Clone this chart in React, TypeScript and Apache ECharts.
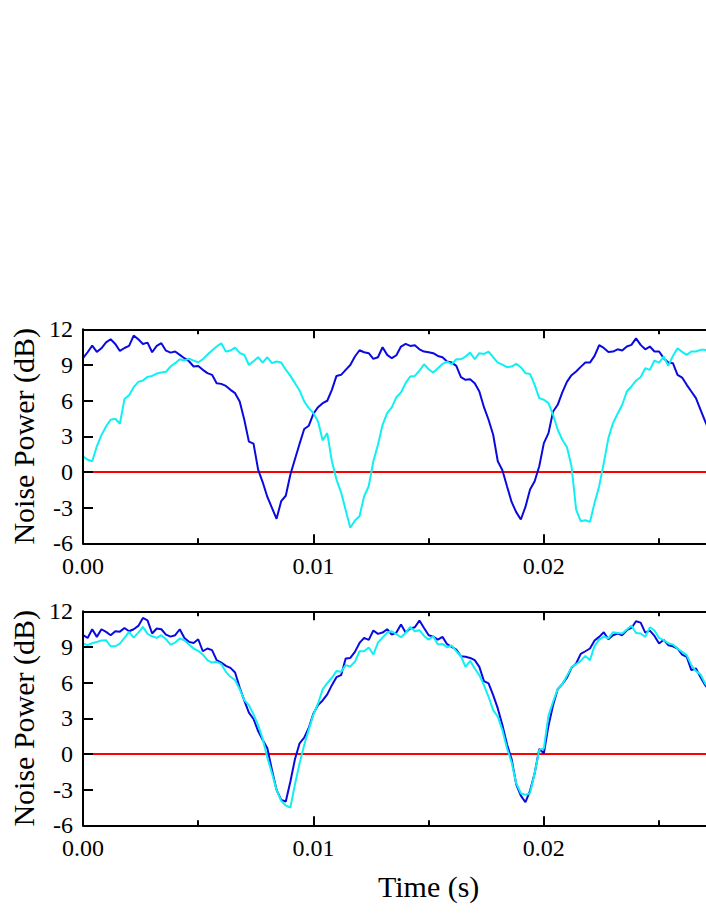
import React, { useEffect, useRef } from 'react';
import * as echarts from 'echarts';

// sampling step of the time series (s)
const T_STEP = 0.0002;

// y-axis ticks (dB)
const Y_MIN = -6;
const Y_MAX = 12;
const Y_INTERVAL = 3;
// x-axis (s)
const X_MIN = 0;
const X_MAX = 0.03;
const X_LABEL_MAX = 0.025;

const topBlue = [
  9.57, 10.07, 10.63, 10.1, 10.4, 10.9, 11.16, 10.77, 10.18, 10.43,
  10.6, 11.47, 11.16, 10.77, 10.88, 10.07, 10.6, 10.83, 10.2, 10.04,
  10.13, 9.85, 9.57, 9.31, 8.87, 8.92, 8.59, 8.31, 8.17, 7.47,
  7.41, 7.24, 6.91, 6.63, 5.93, 4.39, 2.55, 2.38, 0.2, -0.87,
  -2.1, -3.02, -3.94, -2.46, -2.0, -0.22, 1.09, 2.38, 3.61, 3.89,
  4.9, 5.45, 5.79, 5.99, 6.91, 8.08, 8.17, 8.59, 9.0, 9.71,
  10.24, 10.07, 9.99, 9.51, 9.65, 10.49, 9.85, 9.57, 9.82, 10.55,
  10.77, 10.6, 10.66, 10.32, 10.13, 10.07, 9.99, 9.76, 9.65, 9.29,
  9.2, 8.92, 7.97, 7.75, 7.8, 7.47, 6.77, 5.45, 4.39, 3.13,
  0.9, 0.14, -1.2, -2.52, -3.38, -4.0, -2.94, -1.48, -0.78, 0.48,
  2.43, 3.27, 5.09, 5.65, 6.69, 7.58, 8.14, 8.45, 8.84, 9.2,
  9.2, 9.76, 10.66, 10.43, 10.1, 10.13, 10.32, 10.21, 10.55, 10.69,
  11.24, 10.69, 10.32, 10.55, 10.13, 10.13, 9.57, 9.2, 9.15, 8.17,
  7.94, 7.33, 6.77, 6.21, 5.23, 4.25, 3.4,
];

const topCyan = [
  1.31, 1.03, 0.9, 2.15, 3.1, 3.83, 4.39, 4.48, 4.06, 6.13,
  6.46, 7.13, 7.58, 7.69, 8.0, 8.08, 8.28, 8.36, 8.42, 8.87,
  9.15, 9.48, 9.37, 9.54, 9.37, 9.23, 9.48, 9.87, 10.21, 10.55,
  10.83, 10.13, 10.21, 10.46, 10.01, 9.85, 9.0, 9.31, 9.65, 9.2,
  9.65, 9.15, 9.29, 9.2, 8.6, 8.08, 7.47, 6.85, 5.93, 5.37,
  4.95, 4.25, 2.66, 3.27, 0.9, -0.64, -1.71, -3.22, -4.7, -4.08,
  -3.72, -2.04, -1.2, 0.9, 2.29, 3.97, 4.95, 5.43, 6.29, 6.69,
  7.47, 8.03, 8.08, 8.53, 9.06, 8.64, 8.36, 8.73, 9.09, 9.29,
  9.06, 9.48, 9.48, 9.71, 10.04, 9.48, 9.99, 9.93, 10.13, 9.65,
  9.2, 9.03, 8.81, 8.87, 9.09, 8.81, 8.31, 8.25, 7.33, 6.21,
  6.07, 5.79, 4.81, 3.55, 2.71, 2.1, 0.48, -3.16, -4.14, -4.06,
  -4.2, -2.6, -1.2, 0.76, 2.85, 4.11, 4.9, 5.65, 6.77, 7.19,
  7.69, 7.97, 8.73, 8.59, 9.37, 9.2, 9.71, 8.92, 9.76, 10.41,
  10.1, 9.85, 10.13, 10.13, 10.27, 10.27, 10.1,
];

const bottomBlue = [
  9.99, 9.76, 10.49, 9.85, 10.49, 10.27, 9.99, 10.32, 10.29, 10.6,
  10.32, 10.49, 10.77, 11.44, 11.24, 10.13, 10.55, 10.49, 10.04, 9.87,
  9.99, 10.49, 9.76, 9.43, 9.34, 9.65, 8.64, 8.87, 8.73, 7.89,
  7.69, 7.41, 7.24, 6.85, 5.59, 4.48, 3.47, 2.94, 1.93, 1.17,
  0.48, -1.34, -3.02, -3.86, -4.0, -2.32, -0.42, 0.9, 1.37, 2.21,
  3.41, 4.11, 4.5, 5.01, 5.79, 6.46, 6.63, 8.03, 8.08, 8.59,
  9.34, 9.76, 9.6, 10.38, 10.1, 10.21, 10.49, 10.04, 10.21, 10.88,
  10.21, 10.55, 10.66, 11.22, 10.6, 9.99, 9.87, 9.62, 9.85, 9.23,
  9.01, 8.78, 8.22, 8.17, 8.08, 7.89, 7.33, 6.13, 5.93, 4.95,
  3.83, 2.43, 0.81, -0.42, -2.55, -3.5, -4.06, -3.1, -1.62, 0.42,
  0.06, 2.38, 4.11, 5.45, 5.87, 6.41, 7.24, 7.61, 8.42, 8.64,
  8.87, 9.54, 9.85, 10.24, 9.65, 9.99, 10.13, 9.99, 10.41, 10.6,
  11.16, 11.05, 10.21, 10.38, 9.93, 9.29, 9.6, 9.15, 9.06, 8.87,
  8.36, 8.17, 7.05, 7.19, 6.46, 5.79, 5.3,
];

const bottomCyan = [
  9.29, 9.15, 9.31, 9.43, 9.54, 9.57, 9.06, 9.06, 9.29, 9.76,
  10.27, 9.79, 10.21, 10.69, 10.1, 9.9, 9.76, 9.99, 9.65, 9.2,
  9.37, 9.71, 9.57, 9.2, 8.87, 8.67, 8.36, 7.89, 7.69, 7.75,
  7.55, 6.91, 6.49, 6.21, 5.45, 4.53, 4.11, 3.33, 2.43, 1.26,
  -0.31, -1.62, -3.02, -3.94, -4.34, -4.5, -2.55, -0.78, 0.76, 2.07,
  3.33, 4.25, 5.43, 5.96, 6.41, 6.97, 6.91, 7.47, 7.36, 7.75,
  8.64, 8.64, 8.95, 8.36, 9.37, 9.79, 10.21, 10.32, 10.07, 9.82,
  10.18, 10.69, 10.32, 10.41, 9.93, 9.62, 9.9, 9.2, 9.26, 8.98,
  9.12, 8.64, 8.22, 7.33, 7.83, 7.19, 6.63, 5.79, 4.81, 3.69,
  3.13, 2.01, 0.48, -0.7, -2.46, -3.3, -3.44, -3.3, -1.62, 0.34,
  0.48, 3.22, 4.39, 5.45, 5.87, 6.57, 7.3, 7.55, 7.83, 8.25,
  7.89, 9.09, 9.62, 9.87, 9.73, 10.24, 10.18, 10.13, 10.46, 10.8,
  10.18, 10.13, 9.85, 10.66, 10.38, 9.76, 9.57, 9.31, 9.2, 8.87,
  8.59, 8.31, 7.47, 6.97, 6.69, 5.93, 5.5,
];

// reference level (dB)
const zeroLine = [[0, 0], [0.03, 0]];

const BLUE = '#0a0ae0';
const CYAN = '#10f0f2';
const RED = '#ff0000';
const FONT = 'Liberation Serif';

export default function App() {
  const ref = useRef<HTMLDivElement>(null);

  useEffect(() => {
    const chart = echarts.init(ref.current as HTMLDivElement, null, { renderer: 'svg' });
    const toPairs = (arr: number[]) => arr.map((v, i) => [+(i * T_STEP).toFixed(5), v]);

    const grids = [
      { left: 82.5, top: 329.3, width: 691.8, height: 214 },
      { left: 82.5, top: 611.3, width: 691.8, height: 214 },
    ];

    const lineBlack = { color: '#000', width: 2 };
    const labelStyle = { fontSize: 24, fontFamily: FONT, color: '#000', fontWeight: 'normal' };
    const nameStyle = { fontSize: 30, fontFamily: FONT, color: '#000', fontWeight: 'normal' };
    const xAxes: any[] = [];
    const yAxes: any[] = [];
    [0, 1].forEach((g) => {
      xAxes.push({
        type: 'value',
        gridIndex: g,
        position: 'bottom',
        min: X_MIN,
        max: X_MAX,
        interval: 0.01,
        z: 5,
        axisLine: { show: true, onZero: false, lineStyle: lineBlack },
        axisTick: { show: true, inside: true, length: 9, lineStyle: lineBlack },
        minorTick: { show: true, splitNumber: 2, length: 5, lineStyle: lineBlack },
        splitLine: { show: false },
        axisLabel: {
          margin: 11,
          ...labelStyle,
          formatter: (v: number) => (v > X_LABEL_MAX ? '' : v.toFixed(2)),
        },
        name: g === 1 ? 'Time (s)' : '',
        nameLocation: 'middle',
        nameGap: 46,
        nameTextStyle: nameStyle,
      });
      xAxes.push({
        type: 'value',
        gridIndex: g,
        position: 'top',
        min: X_MIN,
        max: X_MAX,
        interval: 0.01,
        z: 5,
        axisLine: { show: true, onZero: false, lineStyle: lineBlack },
        axisTick: { show: true, inside: true, length: 9, lineStyle: lineBlack },
        minorTick: { show: true, splitNumber: 2, length: 5, lineStyle: lineBlack },
        splitLine: { show: false },
        axisLabel: { show: false },
      });
      yAxes.push({
        type: 'value',
        gridIndex: g,
        min: Y_MIN,
        max: Y_MAX,
        interval: Y_INTERVAL,
        z: 5,
        axisLine: { show: true, onZero: false, lineStyle: lineBlack },
        axisTick: { show: true, inside: true, length: 10, lineStyle: lineBlack },
        splitLine: { show: false },
        axisLabel: { margin: 10, ...labelStyle },
        name: 'Noise Power (dB)',
        nameLocation: 'middle',
        nameGap: 45,
        nameTextStyle: nameStyle,
      });
    });

    const mk = (data: any[], g: number, color: string) => ({
      type: 'line',
      xAxisIndex: g * 2,
      yAxisIndex: g,
      data,
      showSymbol: false,
      symbol: 'none',
      clip: true,
      lineStyle: { color, width: 2 },
      itemStyle: { color },
    });

    chart.setOption({
      animation: false,
      backgroundColor: '#fff',
      textStyle: { fontFamily: FONT },
      grid: grids,
      xAxis: xAxes,
      yAxis: yAxes,
      series: [
        mk(zeroLine, 0, RED),
        mk(toPairs(topBlue), 0, BLUE),
        mk(toPairs(topCyan), 0, CYAN),
        mk(zeroLine, 1, RED),
        mk(toPairs(bottomBlue), 1, BLUE),
        mk(toPairs(bottomCyan), 1, CYAN),
      ],
    });

    return () => chart.dispose();
  }, []);

  return (
    <div
      style={{
        position: 'absolute',
        left: 0,
        top: 0,
        width: 706,
        height: 913,
        overflow: 'hidden',
        background: '#fff',
        fontFamily: FONT,
      }}
    >
      <div ref={ref} style={{ width: 800, height: 913 }} />
    </div>
  );
}
